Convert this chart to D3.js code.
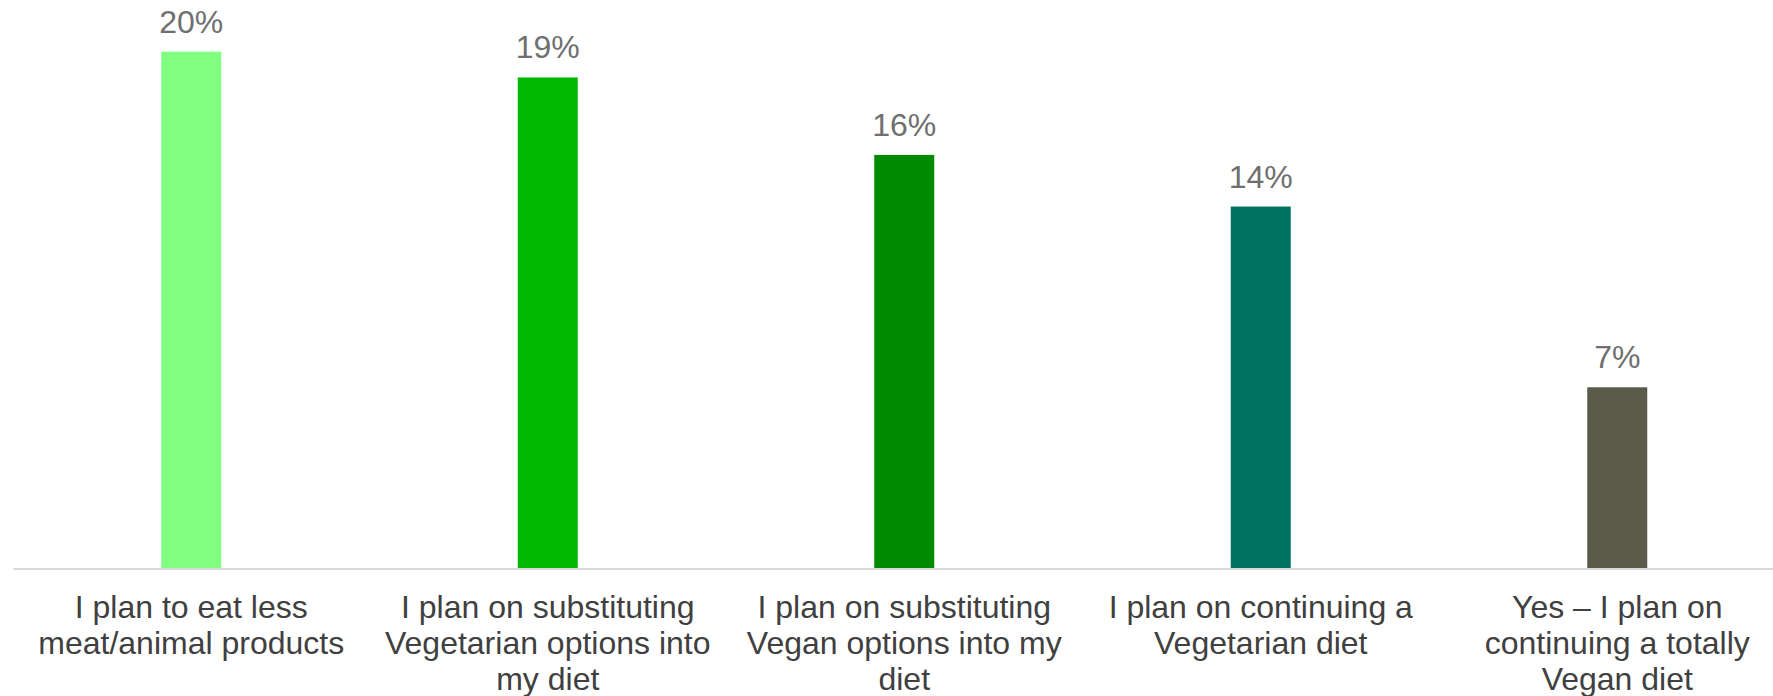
<!DOCTYPE html>
<html>
<head>
<meta charset="utf-8">
<script src="https://cdn.jsdelivr.net/npm/d3@7"></script>
<style>
  html, body { margin: 0; padding: 0; background: #fff; }
  svg { display: block; font-family: Arial, "Liberation Sans", sans-serif; }
</style>
</head>
<body>
<svg id="chart" width="1773" height="696"></svg>
<script>
// Survey answers, one bar each
const categories = [
  "I plan to eat less meat/animal products",
  "I plan on substituting Vegetarian options into my diet",
  "I plan on substituting Vegan options into my diet",
  "I plan on continuing a Vegetarian diet",
  "Yes – I plan on continuing a totally Vegan diet"
];
// Wrapped lines for the category labels under the axis
const categoryLines = [
  ["I plan to eat less", "meat/animal products"],
  ["I plan on substituting", "Vegetarian options into", "my diet"],
  ["I plan on substituting", "Vegan options into my", "diet"],
  ["I plan on continuing a", "Vegetarian diet"],
  ["Yes – I plan on", "continuing a totally", "Vegan diet"]
];
const values = [20, 19, 16, 14, 7];
const valueLabels = ["20%", "19%", "16%", "14%", "7%"];
const barColors = ["#80ff80", "#00b800", "#008a00", "#007360", "#5a5b4b"];

const svg = d3.select("#chart");
const baseline = 568;

const x = d3.scaleBand()
  .domain(categories)
  .range([13, 1795.5])
  .paddingInner(0)
  .paddingOuter(0);

const y = d3.scaleLinear()
  .domain([0, 22])
  .range([baseline, 0]);

const barWidth = 60;

// Bars
svg.append("g")
  .selectAll("rect")
  .data(categories)
  .join("rect")
  .attr("x", d => x(d) + x.bandwidth() / 2 - barWidth / 2)
  .attr("y", (d, i) => y(values[i]))
  .attr("width", barWidth)
  .attr("height", (d, i) => baseline - y(values[i]))
  .attr("fill", (d, i) => barColors[i]);

// Horizontal axis line
const axis = d3.axisBottom(x).tickSize(0).tickFormat("");
const axisG = svg.append("g")
  .attr("transform", `translate(0,${baseline + 0.5})`)
  .call(axis);
axisG.select(".domain").attr("stroke", "#d9d9d9").attr("stroke-width", 2);

// Value labels above the bars
svg.append("g")
  .selectAll("text")
  .data(categories)
  .join("text")
  .attr("x", d => x(d) + x.bandwidth() / 2)
  .attr("y", (d, i) => y(values[i]) - 19)
  .attr("text-anchor", "middle")
  .attr("font-size", 32)
  .attr("fill", "#6f6f6f")
  .text((d, i) => valueLabels[i]);

// Category labels
const catG = svg.append("g");
categories.forEach((c, i) => {
  const t = catG.append("text")
    .attr("x", x(c) + x.bandwidth() / 2)
    .attr("y", 618)
    .attr("text-anchor", "middle")
    .attr("font-size", 32)
    .attr("fill", "#404040");
  categoryLines[i].forEach((line, j) => {
    t.append("tspan")
      .attr("x", x(c) + x.bandwidth() / 2)
      .attr("dy", j === 0 ? 0 : 36)
      .text(line);
  });
});
</script>
</body>
</html>
